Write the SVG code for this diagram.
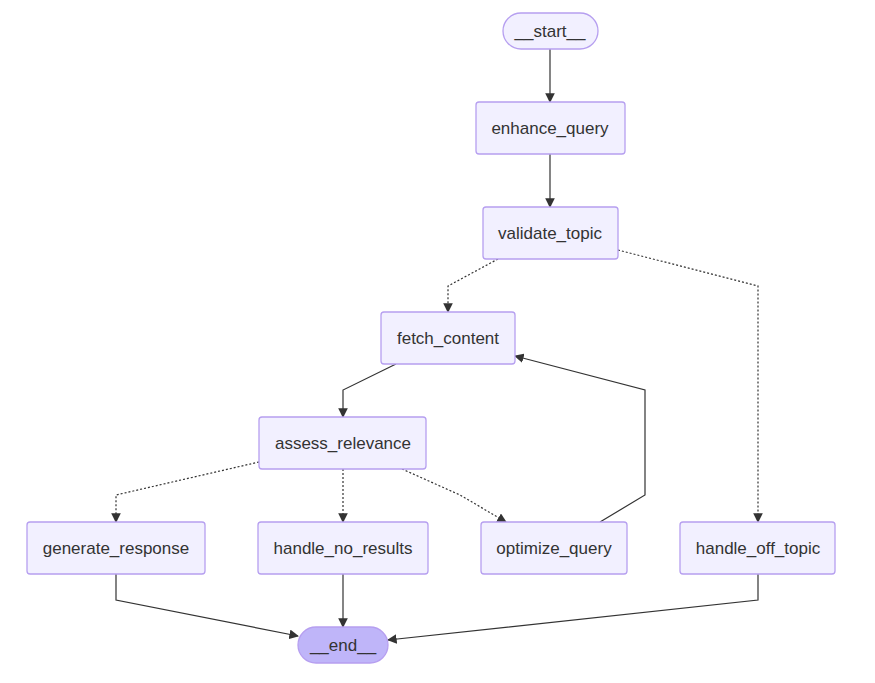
<svg xmlns="http://www.w3.org/2000/svg" width="875" height="683" viewBox="0 0 875 683">
<style>
.n rect{fill:#f2f0ff;stroke:#b69ff0;stroke-width:1.3}
.n text{font-family:"Liberation Sans",Arial,sans-serif;font-size:17px;fill:#333;text-anchor:middle;dominant-baseline:central}
.e path{fill:none;stroke:#333;stroke-width:1.2}
.e .d{stroke-dasharray:2 2}
.end rect{fill:#bfb5f9}
</style>
<defs><marker id="a" viewBox="0 0 10 10" refX="9" refY="5" markerWidth="8" markerHeight="8" orient="auto"><path d="M0,0L10,5L0,10z" fill="#333"/></marker></defs>
<rect width="875" height="683" fill="#fff"/>
<g class="e">
<path d="M550,49V102" marker-end="url(#a)"/>
<path d="M550,154V207" marker-end="url(#a)"/>
<path class="d" d="M498,259L448,286V312" marker-end="url(#a)"/>
<path class="d" d="M618,250L758,286V522" marker-end="url(#a)"/>
<path d="M396,364L343,390V417" marker-end="url(#a)"/>
<path class="d" d="M259,462L116,495V522" marker-end="url(#a)"/>
<path class="d" d="M343,469V522" marker-end="url(#a)"/>
<path class="d" d="M402,469L460,495L506,522" marker-end="url(#a)"/>
<path d="M600,522L645,495V390L515,356" marker-end="url(#a)"/>
<path d="M116,574V600L298,636" marker-end="url(#a)"/>
<path d="M343,574V627" marker-end="url(#a)"/>
<path d="M758,574V600L388,640" marker-end="url(#a)"/>
</g>
<g id="start" class="n"><rect x="503" y="13" width="95" height="36" rx="18"/><text x="550" y="31">__start__</text></g>
<g id="enhance_query" class="n"><rect x="476" y="102" width="149" height="52" rx="3"/><text x="550" y="128">enhance_query</text></g>
<g id="validate_topic" class="n"><rect x="483" y="207" width="135" height="52" rx="3"/><text x="550" y="233">validate_topic</text></g>
<g id="fetch_content" class="n"><rect x="381" y="312" width="134" height="52" rx="3"/><text x="448" y="338">fetch_content</text></g>
<g id="assess_relevance" class="n"><rect x="259" y="417" width="167" height="52" rx="3"/><text x="343" y="443">assess_relevance</text></g>
<g id="generate_response" class="n"><rect x="27" y="522" width="178" height="52" rx="3"/><text x="116" y="548">generate_response</text></g>
<g id="handle_no_results" class="n"><rect x="258" y="522" width="170" height="52" rx="3"/><text x="343" y="548">handle_no_results</text></g>
<g id="optimize_query" class="n"><rect x="481" y="522" width="146" height="52" rx="3"/><text x="554" y="548">optimize_query</text></g>
<g id="handle_off_topic" class="n"><rect x="680" y="522" width="155" height="52" rx="3"/><text x="758" y="548">handle_off_topic</text></g>
<g id="end" class="n end"><rect x="298" y="627" width="90" height="36" rx="18"/><text x="343" y="645">__end__</text></g>
</svg>
